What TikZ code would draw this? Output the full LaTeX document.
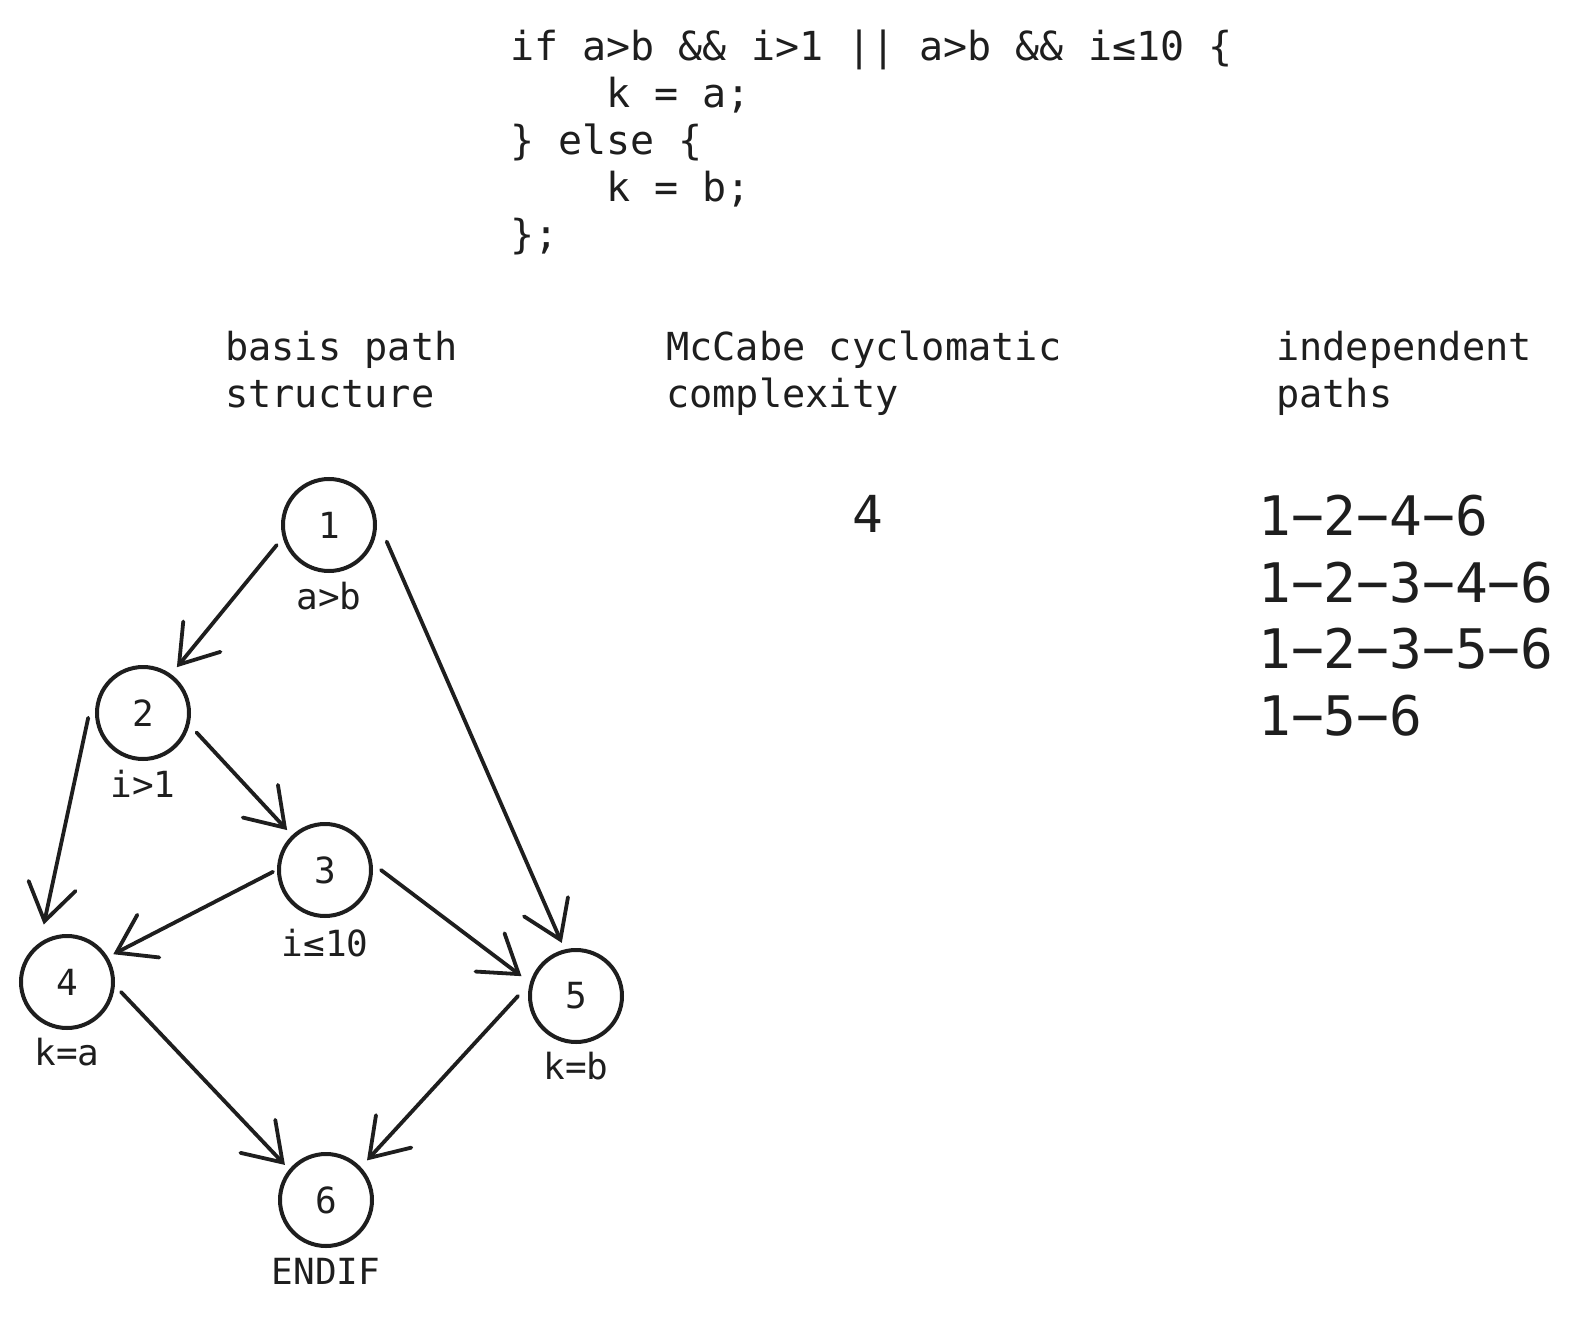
\documentclass[tikz,border=0pt]{standalone}
\usepackage{fontspec}
\setmainfont{DejaVu Sans Mono}
\usetikzlibrary{arrows.meta}
\definecolor{ink}{HTML}{1E1E1E}
\begin{document}
\begin{tikzpicture}[x=1bp,y=-1bp,
  circ/.style={circle, draw=ink, line width=4bp, minimum size=92bp, inner sep=0pt, text=ink, font=\fontsize{36bp}{40bp}\selectfont},
  lab/.style={anchor=base, inner sep=0pt, text=ink, font=\fontsize{36bp}{40bp}\selectfont},
  edge/.style={draw=ink, line width=3.8bp, line cap=round, -{Straight Barb[length=36bp,width=48bp,line cap=round]}},
  txt/.style={anchor=base west, inner sep=0pt, align=left, text=ink, font=\fontsize{38.6bp}{47bp}\selectfont}
]
\useasboundingbox (0,0) rectangle (1580,1324);
% code (anchor is the baseline of the last line)
\node[txt, font=\fontsize{40bp}{47bp}\selectfont] (code) at (510,249)
  {if a>b \&\& i>1 || a>b \&\& i≤10 \{\\
   \phantom{kkkk}k = a;\\
   \} else \{\\
   \phantom{kkkk}k = b;\\
   \};};
% headings
\node[txt] (h1) at (225,407) {basis path\\structure};
\node[txt] (h2) at (666,407) {McCabe cyclomatic\\complexity};
\node[txt] (h3) at (1276,407) {independent\\paths};
\node[anchor=base, inner sep=0pt, text=ink, font=\fontsize{51bp}{60bp}\selectfont] (cc) at (868,532) {4};
\node[txt, font=\fontsize{54.5bp}{66.5bp}\selectfont] (paths) at (1258,735)
  {1−2−4−6\\1−2−3−4−6\\1−2−3−5−6\\1−5−6};
% graph
\node[circ] (n1) at (329,525) {1};
\node[circ] (n2) at (143,713) {2};
\node[circ] (n3) at (325,870) {3};
\node[circ] (n4) at (67,982) {4};
\node[circ] (n5) at (576,996) {5};
\node[circ] (n6) at (326,1200) {6};
\node[lab] (l1) at ([yshift=-84bp]n1.center) {a>b};
\node[lab] (l2) at ([yshift=-84bp]n2.center) {i>1};
\node[lab] (l3) at ([yshift=-86bp]n3.center) {i≤10};
\node[lab] (l4) at ([yshift=-83bp]n4.center) {k=a};
\node[lab] (l5) at ([yshift=-83bp]n5.center) {k=b};
\node[lab] (l6) at ([yshift=-84bp]n6.center) {ENDIF};
\draw[edge] ([shift={(201:56bp)}]n1.center) -- ([shift={(53.5:57bp)}]n2.center);
\draw[edge] ([shift={(344:60bp)}]n1.center) -- ([shift={(105:55bp)}]n5.center);
\draw[edge] ([shift={(185:55bp)}]n2.center) -- ([shift={(112:62bp)}]n4.center);
\draw[edge] ([shift={(340:57bp)}]n2.center) -- ([shift={(133.5:55bp)}]n3.center);
\draw[edge] ([shift={(182:52bp)}]n3.center) -- ([shift={(31:54bp)}]n4.center);
\draw[edge] ([shift={(0:56bp)}]n3.center) -- ([shift={(160:58bp)}]n5.center);
\draw[edge] ([shift={(349.5:55bp)}]n4.center) -- ([shift={(139.5:54bp)}]n6.center);
\draw[edge] ([shift={(180:58bp)}]n5.center) -- ([shift={(44:57bp)}]n6.center);
\end{tikzpicture}
\end{document}
